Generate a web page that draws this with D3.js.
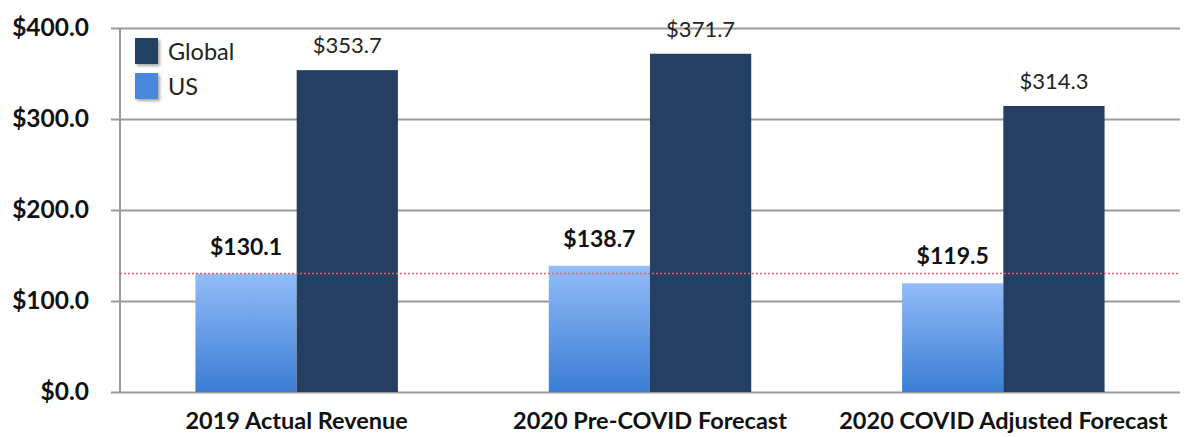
<!DOCTYPE html>
<html><head><meta charset="utf-8">
<script src="https://cdn.jsdelivr.net/npm/d3@7/dist/d3.min.js"></script>
<style>body{margin:0;background:#fff}</style>
</head><body>
<svg id="c" width="1191" height="437"></svg>
<script>
const categories = ["2019 Actual Revenue", "2020 Pre-COVID Forecast", "2020 COVID Adjusted Forecast"];
const seriesNames = ["US", "Global"];
const usValues = [130.1, 138.7, 119.5];
const globalValues = [353.7, 371.7, 314.3];
const yTicks = [0, 100, 200, 300, 400];
const referenceValue = 130.1;

const svg = d3.select("#c");
const font = "Lato, 'Open Sans', sans-serif";
const m = {l:120, r:11, t:28, b:45};
const W = 1191, H = 437;

const x = d3.scaleBand().domain(categories).range([m.l, W - m.r]).paddingInner(0.427).paddingOuter(0.2135);
const xs = d3.scaleBand().domain(seriesNames).range([0, x.bandwidth()]);
const y = d3.scaleLinear().domain([0, 400]).range([H - m.b, m.t]);

const defs = svg.append("defs");
const g = defs.append("linearGradient").attr("id","usg").attr("x1",0).attr("y1",0).attr("x2",0).attr("y2",1);
g.append("stop").attr("offset","0%").attr("stop-color","#93bcf8");
g.append("stop").attr("offset","100%").attr("stop-color","#3a7dd3");
const f = defs.append("filter").attr("id","sh").attr("x","-30%").attr("y","-30%").attr("width","170%").attr("height","170%");
f.append("feDropShadow").attr("dx",2).attr("dy",2).attr("stdDeviation",1.5).attr("flood-color","#000").attr("flood-opacity",0.35);

// gridlines
const yAxis = d3.axisLeft(y).tickValues(yTicks).tickSize(-(W - m.r - m.l + 9)).tickFormat(d => "$" + d.toFixed(1)).tickPadding(0);
const ga = svg.append("g").attr("transform", `translate(${m.l - 9},0)`).call(yAxis);
ga.select(".domain").remove();
ga.selectAll(".tick line").attr("stroke","#9a9a9a").attr("stroke-width",2);
ga.selectAll(".tick text").attr("x", -22).attr("font-family", font).attr("font-weight","bold").attr("font-size", 24.5).attr("fill","#111");
svg.append("line").attr("x1", m.l).attr("x2", m.l).attr("y1", y(400)).attr("y2", y(0)).attr("stroke","#9a9a9a").attr("stroke-width",2);

// bars
const groups = svg.append("g").selectAll("g").data(categories).join("g").attr("transform", d => `translate(${x(d)},0)`);
groups.append("rect").attr("x", xs("US")).attr("width", xs.bandwidth())
  .attr("y", (d,i) => y(usValues[i])).attr("height", (d,i) => y(0) - y(usValues[i])).attr("fill","url(#usg)");
groups.append("rect").attr("x", xs("Global")).attr("width", xs.bandwidth())
  .attr("y", (d,i) => y(globalValues[i])).attr("height", (d,i) => y(0) - y(globalValues[i])).attr("fill","#243f62");

// reference line
svg.append("line").attr("x1", m.l).attr("x2", W - m.r).attr("y1", y(referenceValue)).attr("y2", y(referenceValue))
  .attr("stroke","#ea5f68").attr("stroke-width",1.5).attr("stroke-dasharray","2,2");

// labels
groups.append("text").attr("x", xs("US") + xs.bandwidth()/2).attr("y", (d,i) => y(usValues[i]) - 19)
  .attr("text-anchor","middle").attr("font-family",font).attr("font-weight","bold").attr("font-size",23).attr("fill","#111")
  .text((d,i) => "$" + usValues[i].toFixed(1));
groups.append("text").attr("x", xs("Global") + xs.bandwidth()/2).attr("y", (d,i) => y(globalValues[i]) - 17)
  .attr("text-anchor","middle").attr("font-family",font).attr("font-size",22).attr("fill","#222")
  .text((d,i) => "$" + globalValues[i].toFixed(1));

// x labels
const xAxis = d3.axisBottom(x).tickSize(0).tickPadding(20);
const gx = svg.append("g").attr("transform", `translate(0,${y(0)})`).call(xAxis);
gx.select(".domain").remove();
gx.selectAll(".tick text").attr("font-family",font).attr("font-weight","bold").attr("font-size",23.5).attr("fill","#111");

// legend
const legend = [{name:"Global", fill:"#243f62"}, {name:"US", fill:"#4a88dc"}];
const lg = svg.append("g").selectAll("g").data(legend).join("g").attr("transform", (d,i) => `translate(135,${38 + i*35})`);
lg.append("rect").attr("width",23).attr("height",26).attr("fill", d => d.fill).attr("filter","url(#sh)");
lg.append("text").attr("x",33).attr("y",22).attr("font-family",font).attr("font-size",23.5).attr("fill","#222").text(d => d.name);
</script>
</body></html>
